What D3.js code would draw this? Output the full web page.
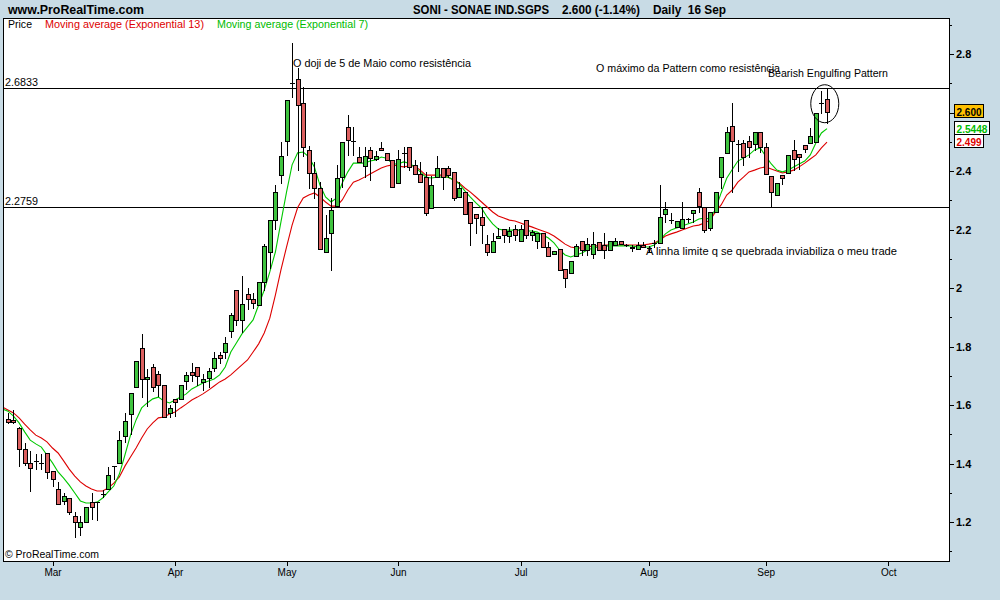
<!DOCTYPE html>
<html><head><meta charset="utf-8">
<script src="https://cdn.jsdelivr.net/npm/d3@7"></script>
<style>
html,body{margin:0;padding:0;background:#c8dbe5;}
svg{display:block;}
text{font-family:"Liberation Sans",Arial,Helvetica,sans-serif;}
</style></head><body>
<svg id="chart" width="1000" height="600"></svg>
<script>
// ---------- DATA (trading-day index 0 = first trading day of March) ----------
const firstCandle = -8;
const open = [1.552,1.549,1.521,1.450,1.402,1.409,1.402,1.436,
1.374,1.313,1.272,1.282,1.221,1.183,1.200,1.268,1.268,1.296,1.313,1.391,1.402,1.494,1.569,1.662,1.795,1.689,1.730,1.706,1.669,1.573,
1.621,1.621,1.682,1.713,1.730,1.679,1.692,1.726,1.771,1.781,1.853,1.993,1.891,1.979,1.962,1.942,2.021,2.123,2.232,2.386,
2.503,2.701,2.714,2.632,2.472,2.393,2.342,2.123,2.188,2.280,2.379,2.550,2.503,2.448,2.417,2.472,2.441,2.479,2.462,2.438,
2.359,2.462,2.482,2.421,2.390,2.380,2.273,2.379,2.410,2.410,2.397,2.311,2.328,2.294,2.253,2.243,2.150,2.123,2.171,2.202,2.178,2.202,
2.161,2.232,2.181,2.161,2.188,2.140,2.116,2.133,2.065,2.051,2.109,2.161,2.130,2.116,2.157,2.147,2.130,2.147,2.161,2.147,2.140,2.133,2.147,
2.137,2.154,2.154,2.253,2.232,2.209,2.205,2.236,2.256,2.328,2.277,2.205,2.260,2.379,2.462,2.554,2.492,2.496,2.503,2.492,2.533,
2.482,2.383,2.318,2.386,2.393,2.472,2.458,2.489,2.496,2.499,2.632,2.646];
const high = [1.573,1.583,1.525,1.470,1.443,1.432,1.432,1.436,
1.374,1.337,1.299,1.282,1.234,1.221,1.251,1.299,1.268,1.309,1.388,1.391,1.511,1.573,1.641,1.750,1.843,1.723,1.740,1.716,1.669,1.600,
1.621,1.669,1.713,1.744,1.730,1.706,1.726,1.781,1.781,1.832,1.915,1.993,2.041,2.000,1.983,2.021,2.150,2.232,2.352,2.499,
2.643,2.838,2.752,2.687,2.485,2.431,2.362,2.250,2.308,2.421,2.499,2.591,2.550,2.482,2.482,2.482,2.468,2.499,2.462,2.438,
2.472,2.482,2.482,2.438,2.431,2.397,2.383,2.451,2.410,2.417,2.397,2.362,2.328,2.294,2.253,2.277,2.181,2.188,2.205,2.202,2.209,2.215,
2.215,2.232,2.198,2.188,2.188,2.157,2.126,2.133,2.065,2.092,2.150,2.161,2.171,2.191,2.157,2.188,2.161,2.171,2.161,2.150,2.147,2.157,2.157,
2.144,2.164,2.352,2.294,2.256,2.229,2.294,2.239,2.267,2.342,2.277,2.260,2.328,2.448,2.550,2.632,2.506,2.506,2.520,2.533,2.533,
2.496,2.383,2.359,2.386,2.455,2.506,2.458,2.489,2.547,2.598,2.673,2.680];
const low = [1.540,1.540,1.391,1.395,1.306,1.381,1.381,1.350,
1.323,1.262,1.262,1.227,1.149,1.156,1.200,1.210,1.207,1.285,1.313,1.347,1.402,1.474,1.501,1.662,1.627,1.597,1.648,1.631,1.559,1.559,
1.562,1.621,1.655,1.682,1.669,1.651,1.662,1.716,1.744,1.761,1.832,1.874,1.850,1.928,1.932,1.942,1.993,2.068,2.202,2.359,
2.455,2.653,2.403,2.451,2.342,2.308,2.133,2.123,2.062,2.280,2.345,2.455,2.455,2.431,2.379,2.369,2.438,2.472,2.438,2.345,
2.359,2.414,2.405,2.390,2.362,2.250,2.273,2.379,2.338,2.379,2.301,2.311,2.253,2.147,2.188,2.154,2.113,2.123,2.171,2.157,2.157,2.164,
2.161,2.171,2.164,2.137,2.140,2.109,2.116,2.062,2.003,2.051,2.109,2.113,2.113,2.102,2.130,2.102,2.130,2.147,2.150,2.144,2.126,2.133,2.140,
2.126,2.140,2.154,2.226,2.222,2.209,2.205,2.226,2.226,2.260,2.191,2.198,2.260,2.342,2.462,2.328,2.400,2.421,2.448,2.472,2.465,
2.390,2.277,2.318,2.356,2.393,2.403,2.407,2.465,2.496,2.499,2.598,2.564];
const close = [1.542,1.542,1.450,1.402,1.385,1.409,1.402,1.371,
1.347,1.262,1.289,1.234,1.200,1.200,1.251,1.251,1.268,1.296,1.361,1.391,1.480,1.545,1.641,1.750,1.689,1.696,1.662,1.669,1.559,1.590,
1.610,1.669,1.703,1.703,1.699,1.689,1.716,1.761,1.761,1.812,1.908,1.891,1.945,1.962,1.949,2.021,2.144,2.232,2.328,2.451,
2.643,2.701,2.626,2.482,2.393,2.342,2.133,2.171,2.267,2.376,2.499,2.506,2.503,2.431,2.451,2.444,2.451,2.472,2.438,2.345,
2.441,2.462,2.414,2.390,2.362,2.256,2.352,2.410,2.379,2.386,2.308,2.342,2.253,2.222,2.239,2.215,2.123,2.161,2.178,2.181,2.195,2.181,
2.202,2.181,2.191,2.188,2.140,2.109,2.126,2.062,2.034,2.092,2.144,2.130,2.150,2.150,2.130,2.130,2.161,2.161,2.150,2.147,2.137,2.147,2.140,
2.137,2.154,2.243,2.270,2.232,2.229,2.236,2.236,2.267,2.280,2.198,2.260,2.328,2.448,2.533,2.503,2.492,2.448,2.482,2.533,
2.482,2.390,2.328,2.359,2.376,2.455,2.441,2.448,2.475,2.520,2.598,2.632,2.600];

const emaFirst = -9;
const ema13 = [1.593,1.583,1.573,1.556,1.535,1.515,1.497,1.487,1.474,
1.453,1.436,1.409,1.381,1.357,1.337,1.323,1.313,1.306,1.306,1.316,1.333,1.354,1.391,1.422,1.453,1.487,1.518,1.539,1.556,1.559,1.569,
1.576,1.590,1.603,1.617,1.627,1.638,1.651,1.665,1.679,1.689,1.703,1.720,1.737,1.754,1.781,1.809,1.846,1.897,1.976,2.062,
2.140,2.215,2.275,2.308,2.318,2.325,2.311,2.294,2.280,2.280,2.301,2.335,2.362,2.369,2.379,2.390,2.400,2.410,2.417,2.421,
2.417,2.414,2.417,2.417,2.403,2.386,2.386,2.386,2.386,2.379,2.369,2.359,2.342,2.328,2.311,2.294,2.277,2.260,2.246,2.239,2.232,2.229,
2.222,2.215,2.209,2.202,2.195,2.188,2.178,2.164,2.150,2.140,2.137,2.137,2.140,2.144,2.144,2.147,2.147,2.147,2.147,2.147,2.147,2.147,2.147,
2.150,2.154,2.164,2.178,2.185,2.191,2.198,2.205,2.212,2.215,2.222,2.232,2.260,2.284,2.318,2.335,2.362,2.379,2.397,2.403,2.410,
2.414,2.407,2.400,2.393,2.397,2.403,2.414,2.427,2.441,2.455,2.479,2.499];
const ema7 = [1.586,1.579,1.562,1.539,1.508,1.480,1.467,1.456,1.429,
1.402,1.371,1.350,1.326,1.299,1.272,1.265,1.265,1.268,1.282,1.303,1.323,1.364,1.429,1.497,1.549,1.590,1.607,1.621,1.627,1.614,1.607,
1.617,1.627,1.638,1.655,1.665,1.675,1.682,1.689,1.703,1.730,1.781,1.812,1.843,1.867,1.891,1.942,1.993,2.055,2.123,2.226,
2.328,2.421,2.462,2.465,2.448,2.414,2.352,2.311,2.294,2.308,2.359,2.397,2.427,2.427,2.427,2.434,2.438,2.448,2.444,2.424,
2.424,2.431,2.427,2.414,2.397,2.379,2.376,2.379,2.379,2.379,2.369,2.356,2.332,2.311,2.291,2.273,2.243,2.219,2.202,2.198,2.198,2.198,
2.198,2.195,2.195,2.191,2.181,2.171,2.154,2.130,2.113,2.106,2.113,2.120,2.130,2.137,2.140,2.144,2.144,2.144,2.144,2.144,2.144,2.140,2.140,
2.140,2.147,2.164,2.185,2.198,2.205,2.212,2.219,2.226,2.236,2.239,2.236,2.270,2.325,2.375,2.405,2.434,2.444,2.455,2.472,2.479,
2.451,2.424,2.403,2.397,2.403,2.414,2.424,2.434,2.455,2.496,2.530,2.545];

const monthLabels = ["Mar","Apr","May","Jun","Jul","Aug","Sep","Oct"];
const monthStart = [0,22,42,62,84,107,128,150];
const yTickValues = [1.1,1.2,1.3,1.4,1.5,1.6,1.7,1.8,1.9,2.0,2.1,2.2,2.3,2.4,2.5,2.6,2.7,2.8,2.9];
const yMajorValues = [1.2,1.4,1.6,1.8,2.0,2.2,2.4,2.6,2.8];
const yLabelValues = [1.2,1.4,1.6,1.8,2.0,2.2,2.4,2.8]; // 2.6 sits under the last-price tag
const levelValues = [2.6833, 2.2759];
const levelLabels = ["2.6833","2.2759"];
const tagValues = [2.600, 2.5448, 2.499];
const tagLabels = ["2.600","2.5448","2.499"];

// ---------- LAYOUT ----------
const plot = {left:3, right:949, top:18, bottom:561};
const x = d3.scaleLinear().domain([0,139]).range([52.5,827]);
const y = d3.scaleLinear().domain([1.2,2.8]).range([522,54]);
const GREEN = "#3fc33f", RED = "#dc6060";
const FONT = '"Liberation Sans",Arial,Helvetica,sans-serif';
const isIn = (arr,v) => arr.some(m=>Math.abs(m-v)<1e-6);

const svg = d3.select("#chart");
svg.append("rect").attr("width",1000).attr("height",600).attr("fill","#c8dbe5");
svg.append("rect").attr("x",plot.left+0.5).attr("y",plot.top+0.5)
  .attr("width",plot.right-plot.left).attr("height",plot.bottom-plot.top)
  .attr("fill","#fff").attr("stroke","#000").attr("stroke-width",1);

svg.append("clipPath").attr("id","clip").append("rect")
  .attr("x",plot.left+1).attr("y",plot.top+1)
  .attr("width",plot.right-plot.left-1).attr("height",plot.bottom-plot.top-1);
const g = svg.append("g").attr("clip-path","url(#clip)");

// level lines
levelValues.forEach((v,k)=>{
  const yy = Math.round(y(v))+0.5;
  g.append("line").attr("x1",plot.left).attr("x2",plot.right).attr("y1",yy).attr("y2",yy)
   .attr("stroke","#000").attr("stroke-width",1).attr("shape-rendering","crispEdges");
  svg.append("text").attr("x",5).attr("y",yy-2.5).attr("font-size",10)
   .attr("textLength",33).attr("lengthAdjust","spacingAndGlyphs").text(levelLabels[k]);
});

// EMA lines
const lineGen = d3.line().x((d,k)=>x(emaFirst+k)).y(d=>y(d));
g.append("path").datum(ema13).attr("d",lineGen).attr("fill","none")
  .attr("stroke","#dd0000").attr("stroke-width",1.1);
g.append("path").datum(ema7).attr("d",lineGen).attr("fill","none")
  .attr("stroke","#00c800").attr("stroke-width",1.1);

// candles
const candles = open.map((o,k)=>({i:firstCandle+k,o:o,h:high[k],l:low[k],c:close[k]}));
const cg = g.append("g").attr("shape-rendering","crispEdges");
candles.forEach(d=>{
  const cx = Math.round(x(d.i));
  cg.append("line").attr("x1",cx+0.5).attr("x2",cx+0.5)
    .attr("y1",Math.round(y(d.h))).attr("y2",Math.round(y(d.l))+1)
    .attr("stroke","#000").attr("stroke-width",1);
  if (Math.abs(d.o-d.c) < 0.0005) {
    const yy = Math.round(y(d.o))+0.5;
    cg.append("line").attr("x1",cx-2).attr("x2",cx+3).attr("y1",yy).attr("y2",yy)
      .attr("stroke","#000").attr("stroke-width",1);
  } else {
    const yt = Math.round(y(Math.max(d.o,d.c)))+0.5;
    const yb = Math.round(y(Math.min(d.o,d.c)))+0.5;
    cg.append("rect").attr("x",cx-1.5).attr("y",yt).attr("width",4).attr("height",Math.max(1,yb-yt))
      .attr("fill",d.c>d.o?GREEN:RED).attr("stroke","#000").attr("stroke-width",1);
  }
});

// ellipse around the last candles
g.append("ellipse").attr("cx",x(138.6)).attr("cy",y(2.63)).attr("rx",14).attr("ry",19)
  .attr("fill","none").attr("stroke","#000").attr("stroke-width",1);

// annotations
const ann = [
  {t:"O doji de 5 de Maio como resistência", x:293, y:67, w:178},
  {t:"O máximo da Pattern como resistência", x:596, y:72, w:184},
  {t:"Bearish Engulfing Pattern", x:768, y:77, w:120},
  {t:"A linha limite q se quebrada inviabiliza o meu trade", x:646, y:255, w:251}
];
ann.forEach(a=>svg.append("text").attr("x",a.x).attr("y",a.y).attr("font-size",10)
  .attr("textLength",a.w).attr("lengthAdjust","spacingAndGlyphs").text(a.t));

// legend inside plot
svg.append("text").attr("x",8).attr("y",28).attr("font-size",10).attr("fill","#000")
  .attr("textLength",24).attr("lengthAdjust","spacingAndGlyphs").text("Price");
svg.append("text").attr("x",45).attr("y",28).attr("font-size",10).attr("fill","#dd0000")
  .attr("textLength",159).attr("lengthAdjust","spacingAndGlyphs").text("Moving average (Exponential 13)");
svg.append("text").attr("x",217).attr("y",28).attr("font-size",10).attr("fill","#00bb00")
  .attr("textLength",151).attr("lengthAdjust","spacingAndGlyphs").text("Moving average (Exponential 7)");
svg.append("text").attr("x",5).attr("y",558).attr("font-size",10.5)
  .attr("textLength",94).attr("lengthAdjust","spacingAndGlyphs").text("© ProRealTime.com");

// header
svg.append("text").attr("x",8).attr("y",14).attr("font-size",12).attr("font-weight","bold")
  .attr("textLength",136).attr("lengthAdjust","spacingAndGlyphs").text("www.ProRealTime.com");
[["SONI - SONAE IND.SGPS",413,136],["2.600 (-1.14%)",562,78],["Daily  16 Sep",653,73]].forEach(p=>
  svg.append("text").attr("x",p[1]).attr("y",14).attr("font-size",12).attr("font-weight","bold")
   .attr("textLength",p[2]).attr("lengthAdjust","spacingAndGlyphs").attr("xml:space","preserve").text(p[0]));

// right axis
const yAxis = d3.axisRight(y).tickValues(yTickValues).tickSize(5).tickPadding(2)
  .tickFormat(v => isIn(yLabelValues,v) ? String(+v.toFixed(1)) : "");
const ya = svg.append("g").attr("transform",`translate(${plot.right},0)`).call(yAxis);
ya.select(".domain").remove();
ya.selectAll(".tick line").attr("stroke","#000").attr("shape-rendering","crispEdges")
  .attr("x2",v => isIn(yMajorValues,v) ? 5 : 3);
ya.selectAll(".tick text").attr("font-family",FONT).attr("font-size",11).attr("font-weight","bold").attr("fill","#000");

// bottom axis
const xAxis = d3.axisBottom(x).tickValues(monthStart).tickSize(5).tickPadding(3)
  .tickFormat((d,k)=>monthLabels[k]);
const xa = svg.append("g").attr("transform",`translate(0,${plot.bottom})`).call(xAxis);
xa.select(".domain").remove();
xa.selectAll(".tick line").attr("stroke","#000").attr("shape-rendering","crispEdges");
xa.selectAll(".tick text").attr("font-family",FONT).attr("font-size",10).attr("fill","#000");

// last value tags
const tagFill = ["#ffc000","#ffffff","#ffffff"];
const tagText = ["#000000","#00bb00","#dd0000"];
const tagW = [29,35,29];
tagValues.forEach((v,k)=>{
  const cy = Math.round(y(v));
  svg.append("rect").attr("x",954.5).attr("y",cy-7.5).attr("width",tagW[k]).attr("height",13)
    .attr("fill",tagFill[k]).attr("stroke","#000").attr("stroke-width",1).attr("shape-rendering","crispEdges");
  svg.append("text").attr("x",956.5).attr("y",cy+4).attr("font-size",11).attr("font-weight","bold")
    .attr("textLength",tagW[k]-4).attr("lengthAdjust","spacingAndGlyphs")
    .attr("fill",tagText[k]).text(tagLabels[k]);
});
</script>
</body></html>
